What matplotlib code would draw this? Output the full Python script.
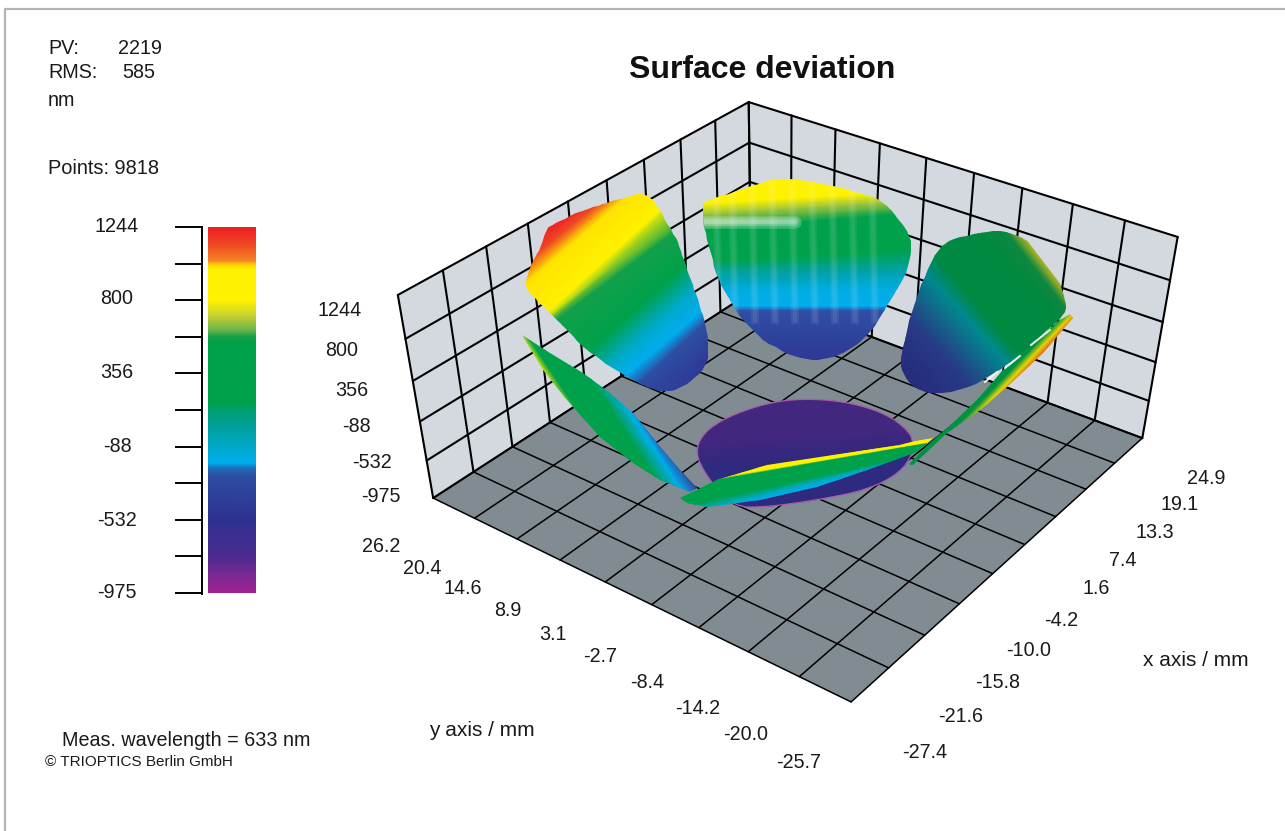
import numpy as np
import matplotlib
matplotlib.use("Agg")
import matplotlib.pyplot as plt
from matplotlib.colors import LinearSegmentedColormap, ListedColormap, Normalize
from matplotlib.patches import Polygon

plt.rcParams['font.family'] = ['Liberation Sans', 'DejaVu Sans']

# ---------- data ----------
x_ticks = [-27.4, -21.6, -15.8, -10.0, -4.2, 1.6, 7.4, 13.3, 19.1, 24.9]
y_ticks = [26.2, 20.4, 14.6, 8.9, 3.1, -2.7, -8.4, -14.2, -20.0, -25.7]
z_ticks = [-975, -532, -88, 356, 800, 1244]
cbar_labels = [1244, 800, 356, -88, -532, -975]

# colour scale: fraction down from the top, colour
scale_pos = [0, .05, .09, .105, .12, .20, .24, .28, .30, .32, .48, .50, .55, .60, .645, .66, .68, .80, .90, .95, 1]
scale_col = ['#EE2024', '#F04A24', '#F58220', '#FFDD00', '#FFF200', '#FFF200', '#C8D22F', '#6DB64A', '#12A04A',
             '#00A14B', '#00A14B', '#00A070', '#00A0A0', '#00AAC8', '#00AEEF', '#1E6CB8', '#2E4FA3', '#2E3192',
             '#4B2C8F', '#7A2A95', '#A0218F']

# measured surfaces: outline, iso-value chords and values (nm)
A_outline = [(547,228),(553,225),(572,215),(590,208),(610,202),(627,197),(640,193),(652,198),(660,210),(667,223),
             (677,240),(683,257),(690,277),(697,297),(702,313),(707,330),(709,353),(705,367),(693,380),(677,390),
             (660,392),(643,385),(623,375),(603,362),(583,347),(567,330),(550,313),(533,297),(525,287),(528,272),
             (533,260),(540,250),(543,238)]
A_chords = [(513,247,580,197),(523,247,590,197),(530,260,603,200),(533,277,623,200),(550,310,657,213),(557,320,673,233),
            (590,350,680,270),(610,365,690,293),(630,372,697,315),(640,382,704,324),(690,410,723,357)]
A_values = [1244,1244,1133,1000,800,578,179,-87,-187,-265,-531]

B_outline = [(703,202),(703,223),(710,250),(717,277),(728,298),(740,317),(760,338),(785,353),(810,361),(830,358),
             (850,350),(873,330),(890,300),(905,277),(913,247),(907,230),(883,200),(860,193),(823,183),(783,178),
             (770,180),(740,190),(710,200)]
B_chords = [(680,170,930,165),(680,180,930,172),(680,205,930,190),(680,216,930,200),(680,232,930,212),(680,262,930,250),
            (680,276,930,270),(680,292,930,288),(680,306,930,306),(680,311,930,311),(680,365,930,365)]
B_values = [933,933,800,667,534,223,1,-154,-187,-265,-487]
B_streak_y = [222]
B_streak_x = [716,732,752,772,792,812,832,852,872]

C_outline = [(902,353),(910,317),(923,280),(937,250),(950,240),(977,233),(1003,230),(1027,240),(1047,253),(1057,273),
             (1065,300),(1067,313),(1043,333),(1023,353),(1003,367),(983,380),(963,390),(930,395),(910,385),(900,367)]
C_chords = [(870,350,925,410),(883,357,937,417),(890,297,990,407),(917,263,1010,367),(930,250,1037,373),
            (975,230,1066,330),(1005,230,1075,320),(1020,232,1072,300)]
C_values = [-531,-531,-354,1,223,356,578,711]

D_outline = [(522,335),(550,353),(583,373),(610,393),(633,413),(657,443),(680,470),(697,488),(690,492),(660,480),
             (633,463),(600,437),(567,400),(543,370),(533,353)]
D_chords = [(515,330,570,415),(527,335,600,445),(585,370,650,470),(615,388,672,475),(630,403,690,482),(660,420,720,500)]
D_values = [800,534,179,-187,-265,-487]

E_outline = [(680,498),(717,480),(767,465),(833,455),(900,445),(935,436),(917,452),(867,470),(817,487),(760,500),
             (707,507),(687,503)]
E_chords = [(660,481,937,438),(660,488,937,441),(660,490,937,442),(660,512,937,450),(660,520,937,453),(660,528,937,456)]
E_values = [978,800,534,179,-87,-187]

F_outline = [(695,453),(703,433),(727,417),(760,405),(793,399),(833,400),(867,407),(893,418),(910,433),(913,443),
             (913,453),(900,473),(867,490),(817,500),(767,507),(733,507),(707,477)]
F_chords = [(680,395,930,395),(680,445,930,430),(680,470,930,455),(680,510,930,510)]
F_values = [-753,-753,-576,-576]

G_outline = [(1060,320),(1072,313),(1073,318),(1043,353),(1007,387),(980,410),(947,433),(913,465),(909,464),(930,443),
             (953,423),(977,400),(1003,370),(1033,343)]
G_chords = [(1056,307,905,460),(1060,311,910,465),(1064,315,915,470),(1068,319,920,475),(1072,323,925,480)]
G_values = [-87,250,534,978,1100]
G_dashes = [(1031,345,1050,330),(1005,368,1020,356),(985,382,997,372)]

# ---------- layout ----------
fig = plt.figure(figsize=(1285/100, 831/100), dpi=100, facecolor='white')
ax = fig.add_axes([0, 0, 1, 1])
ax.set_xlim(0, 1285)
ax.set_ylim(831, 0)
ax.axis('off')

# border of the window
ax.plot([5, 5, 1285], [831, 9, 9], color='#B4B4B4', lw=1.6, zorder=1)

# colour scale
top_down = list(zip(scale_pos, scale_col))
cmap = LinearSegmentedColormap.from_list('surface', [(1 - p, c) for p, c in reversed(top_down)], N=1024)
norm = Normalize(z_ticks[0], z_ticks[-1])
bar_z = np.linspace(z_ticks[-1], z_ticks[0], 512)[:, None]
ax.imshow(bar_z, extent=(208, 256, 593, 227), cmap=cmap, norm=norm, aspect='auto', zorder=2, interpolation='bilinear')
ax.set_xlim(0, 1285)
ax.set_ylim(831, 0)
bar_ticks_y = np.linspace(227, 593, 11)
ax.plot([202, 202], [227, 594], color='black', lw=1.4, zorder=3)
for ty in bar_ticks_y:
    ax.plot([176, 202], [ty, ty], color='black', lw=1.4, zorder=3)

TXT = '#1a1a1a'


def label(px, py, s, ha='center', fs=14.2, **kw):
    ax.text(px, py + 2, s, ha=ha, va='center', fontsize=fs, color=TXT, **kw)


for lab, ty in zip(cbar_labels, [225, 297, 371, 444, 518, 591]):
    label(117, ty, str(lab))

# perspective of the box, fixed by its corners
world = [(-27.4, 26.2, -975), (-27.4, -25.7, -975), (24.9, -25.7, -975), (24.9, 26.2, -975),
         (-27.4, 26.2, 1244), (24.9, 26.2, 1244), (24.9, -25.7, 1244)]
image = [(434, 498), (851, 702), (1143, 438), (750, 292), (397, 295), (750, 102), (1177, 237)]
rows = []
for (wx, wy, wz), (u, v) in zip(world, image):
    wz = wz / 40.0
    rows.append([wx, wy, wz, 1, 0, 0, 0, 0, -u*wx, -u*wy, -u*wz, -u])
    rows.append([0, 0, 0, 0, wx, wy, wz, 1, -v*wx, -v*wy, -v*wz, -v])
P = np.linalg.svd(np.array(rows, float))[2][-1].reshape(3, 4)


def project(x, y, z):
    x, y, z = np.broadcast_arrays(np.asarray(x, float), np.asarray(y, float), np.asarray(z, float) / 40.0)
    h = P @ np.vstack([x.ravel(), y.ravel(), z.ravel(), np.ones(x.size)])
    return h[0] / h[2], h[1] / h[2]


WALL = '#D4D9E0'
FLOOR = '#818B92'
x0, x1, y0, y1, z0, z1 = x_ticks[0], x_ticks[-1], y_ticks[0], y_ticks[-1], z_ticks[0], z_ticks[-1]


def face(xs, ys, zs, col):
    u, v = project(xs, ys, zs)
    ax.add_patch(Polygon(np.c_[u, v], closed=True, fc=col, ec='none', zorder=2))


face([x0, x1, x1, x0], [y0, y0, y0, y0], [z0, z0, z1, z1], WALL)
face([x1, x1, x1, x1], [y0, y1, y1, y0], [z0, z0, z1, z1], WALL)
face([x0, x1, x1, x0], [y0, y0, y1, y1], [z0, z0, z0, z0], FLOOR)


def line(xs, ys, zs, lw):
    u, v = project(xs, ys, zs)
    ax.plot(u, v, color='black', lw=lw, zorder=3, solid_capstyle='round')


for xv in x_ticks:
    line([xv, xv], [y0, y0], [z0, z1], 1.5)
    line([xv, xv], [y0, y1], [z0, z0], 1.1)
for yv in y_ticks:
    line([x1, x1], [yv, yv], [z0, z1], 1.5)
    line([x0, x1], [yv, yv], [z0, z0], 1.1)
for zv in z_ticks:
    line([x0, x1], [y0, y0], [zv, zv], 1.5)
    line([x1, x1], [y0, y1], [zv, zv], 1.5)


def rounded(outline, passes=2):
    pts = np.array(outline, float)
    for _ in range(passes):
        nxt = np.roll(pts, -1, axis=0)
        pts = np.vstack([np.c_[0.75 * pts + 0.25 * nxt], np.c_[0.25 * pts + 0.75 * nxt]])[
            np.arange(2 * len(pts)).reshape(2, -1).T.ravel()]
    return pts


def surface(outline, chords, values, zorder, shade=1.0, edge=None, stretch=0.3, smooth=False):
    outline = rounded(outline) if smooth else np.array(outline, float)
    ch = np.array(chords, float)
    dx, dy = ch[:, 2] - ch[:, 0], ch[:, 3] - ch[:, 1]
    X = np.c_[ch[:, 0] - stretch * dx, ch[:, 2] + stretch * dx]
    Y = np.c_[ch[:, 1] - stretch * dy, ch[:, 3] + stretch * dy]
    C = np.c_[values, values]
    cm = ListedColormap(cmap(np.linspace(0, 1, 1024))[:, :3] * shade)
    mesh = ax.pcolormesh(X, Y, C, shading='gouraud', cmap=cm, norm=norm, zorder=zorder)
    clip = Polygon(outline, closed=True, transform=ax.transData)
    mesh.set_clip_path(clip)
    ax.set_xlim(0, 1285)
    ax.set_ylim(831, 0)
    if edge:
        ax.add_patch(Polygon(outline, closed=True, fc='none', ec=edge, lw=0.9, zorder=zorder + 0.1))
    return clip


surface(F_outline, F_chords, F_values, 4, shade=0.88, edge='#A85CA8', smooth=True)
surface(A_outline, A_chords, A_values, 5, smooth=True)
clip_b = surface(B_outline, B_chords, B_values, 5, smooth=True)
for sy in B_streak_y:
    for w in (9, 6, 3):
        l, = ax.plot([703, 795], [sy, sy], color='white', lw=w, alpha=0.22, zorder=5.2, solid_capstyle='round')
        l.set_clip_path(clip_b)
for sx in B_streak_x:
    for w in (6, 3):
        l, = ax.plot([sx, sx + 3], [185, 320], color='white', lw=w, alpha=0.07, zorder=5.2)
        l.set_clip_path(clip_b)
surface(C_outline, C_chords, C_values, 5, shade=0.85, smooth=True)
surface(G_outline, G_chords, G_values, 6, shade=0.9, stretch=0.02)
for a, b, c, d in G_dashes:
    ax.plot([a, c], [b, d], color='white', lw=1.4, alpha=0.9, zorder=6.2)
surface(D_outline, D_chords, D_values, 6)
surface(E_outline, E_chords, E_values, 7, stretch=0.03)

# texts
label(48, 46, 'PV:', ha='left')
label(162, 46, '2219', ha='right')
label(48, 71, 'RMS:', ha='left')
label(155, 71, '585', ha='right')
label(48, 98, 'nm', ha='left')
label(48, 166, 'Points: 9818', ha='left', fs=14.4)
ax.text(762, 70, 'Surface deviation', ha='center', va='center', fontsize=23, fontweight='bold', color='#111111')
label(186, 738, 'Meas. wavelength = 633 nm')
label(139, 760, '© TRIOPTICS Berlin GmbH', fs=11)
label(1196, 659, 'x axis / mm', fs=15)
label(482, 728, 'y axis / mm', fs=15)

z_label_pos = [(381, 494), (372, 461), (356, 425), (352, 388), (342, 349), (340, 309)]
for v, (px, py) in zip(z_ticks, z_label_pos):
    label(px, py, str(v))
y_label_pos = [(381, 544), (422, 566), (463, 587), (508, 609), (553, 633), (600, 655), (647, 681), (698, 707), (746, 732), (799, 760)]
for v, (px, py) in zip(y_ticks, y_label_pos):
    label(px, py, f'{v:.1f}')
x_label_pos = [(925, 750), (961, 714), (998, 681), (1029, 649), (1061, 618), (1096, 587), (1123, 558), (1155, 531), (1180, 503), (1206, 477)]
for v, (px, py) in zip(x_ticks, x_label_pos):
    label(px, py, f'{v:.1f}')

fig.savefig('out.png', dpi=100, facecolor='white')
